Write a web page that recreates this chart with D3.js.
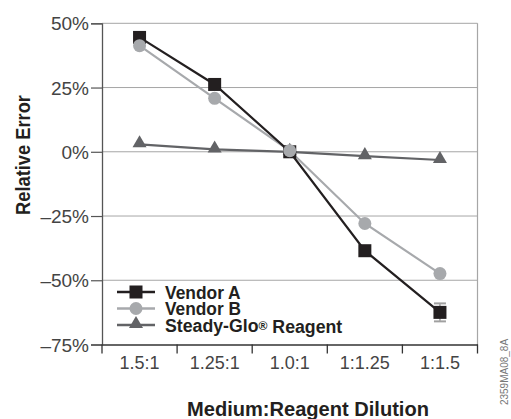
<!DOCTYPE html>
<html><head><meta charset="utf-8">
<script src="https://cdn.jsdelivr.net/npm/d3@7"></script>
<style>body{margin:0;background:#fff}svg{display:block}</style>
</head><body>
<script>
const categories = ["1.5:1","1.25:1","1.0:1","1:1.25","1:1.5"];
const vendorA = [44.5, 26.2, 0, -38.5, -62.5];
const vendorAErr = [0, 0, 0, 0, 3.5];
const vendorB = [41.3, 20.8, 0.4, -27.9, -47.4];
const steadyGlo = [2.9, 0.9, 0, -1.7, -3.2];
const yTicks = [50, 25, 0, -25, -50, -75];
const seriesNames = ["Vendor A", "Vendor B", "Steady-Glo® Reagent"];

const W = 511, H = 419;
const svg = d3.select("body").append("svg").attr("width", W).attr("height", H);
const m = {l:102, r:477.5, t:23.3, b:344.5};
const x = d3.scaleBand().domain(categories).range([m.l, m.r]);
const y = d3.scaleLinear().domain([-75, 50]).range([m.b, m.t]);
const cx = c => x(c) + x.bandwidth()/2;
const fmt = v => (v < 0 ? "\u2013" + Math.abs(v) : v) + "%";
const BOLD = "Liberation Sans, Arial, sans-serif";

// squeeze a text horizontally (in its own coordinate frame) to a target width
function condense(sel, target, ax, ay, rot) {
  const node = sel.node();
  const w = node.getBBox().width;
  const s = target / w;
  sel.attr("transform", `translate(${ax},${ay})` + (rot ? ` rotate(${rot})` : "") + ` scale(${s},1)`);
}

// gridlines
svg.append("g").selectAll("line").data(yTicks.filter(v => v > -75)).join("line")
  .attr("x1", m.l).attr("x2", m.r).attr("y1", d => y(d)).attr("y2", d => y(d))
  .attr("stroke", "#a6a6a6").attr("stroke-width", 1);
// right border
svg.append("line").attr("x1", m.r).attr("x2", m.r).attr("y1", m.t).attr("y2", m.b)
  .attr("stroke", "#a6a6a6").attr("stroke-width", 1.2);

// y axis
const yAxis = d3.axisLeft(y).tickValues(yTicks).tickSize(11).tickPadding(2).tickFormat(fmt);
const gy = svg.append("g").attr("transform", `translate(${m.l},0)`).call(yAxis);
gy.select(".domain").attr("stroke", "#555").attr("stroke-width", 1.3);
gy.selectAll(".tick line").attr("stroke", "#555").attr("stroke-width", 1.2);
gy.selectAll("text").attr("font-family", "Liberation Sans, Arial, sans-serif")
  .attr("font-size", 19).attr("fill", "#444").attr("dy", "0.35em");

// x axis
const xAxis = d3.axisBottom(x).tickSize(0).tickPadding(12);
const gx = svg.append("g").attr("transform", `translate(0,${m.b})`).call(xAxis);
gx.select(".domain").attr("stroke", "#333").attr("stroke-width", 1.6);
gx.selectAll("text").attr("font-family", "Liberation Sans, Arial, sans-serif")
  .attr("font-size", 18).attr("fill", "#444");
// boundary tick marks
const bounds = categories.map(c => x(c)).concat([m.r]);
svg.append("g").selectAll("line").data(bounds).join("line")
  .attr("x1", d => d).attr("x2", d => d).attr("y1", m.b).attr("y2", m.b + 9)
  .attr("stroke", "#333").attr("stroke-width", 1.3);

const line = d3.line().x((d,i) => cx(categories[i])).y(d => y(d));

// Steady-Glo
svg.append("path").datum(steadyGlo).attr("d", line).attr("fill","none")
  .attr("stroke", "#626366").attr("stroke-width", 2.2);
const tri = d3.symbol().type(d3.symbolTriangle).size(85);
svg.append("g").selectAll("path").data(steadyGlo).join("path")
  .attr("d", tri).attr("transform", (d,i) => `translate(${cx(categories[i])},${y(d)-1})`)
  .attr("fill", "#626366");

// Vendor B
svg.append("path").datum(vendorB).attr("d", line).attr("fill","none")
  .attr("stroke", "#a7a9ac").attr("stroke-width", 2.2);

// Vendor A
svg.append("path").datum(vendorA).attr("d", line).attr("fill","none")
  .attr("stroke", "#231f20").attr("stroke-width", 2.2);
// error bars
const eb = svg.append("g").selectAll("g").data(vendorA.map((v,i)=>({v, e:vendorAErr[i], c:categories[i]})).filter(d=>d.e>0)).join("g");
eb.append("line").attr("x1", d=>cx(d.c)).attr("x2", d=>cx(d.c)).attr("y1", d=>y(d.v+d.e)).attr("y2", d=>y(d.v-d.e)).attr("stroke","#a0a0a0").attr("stroke-width",1.5);
eb.append("line").attr("x1", d=>cx(d.c)-6).attr("x2", d=>cx(d.c)+6).attr("y1", d=>y(d.v+d.e)).attr("y2", d=>y(d.v+d.e)).attr("stroke","#a0a0a0").attr("stroke-width",2);
eb.append("line").attr("x1", d=>cx(d.c)-6).attr("x2", d=>cx(d.c)+6).attr("y1", d=>y(d.v-d.e)).attr("y2", d=>y(d.v-d.e)).attr("stroke","#a0a0a0").attr("stroke-width",2);
svg.append("g").selectAll("rect").data(vendorA).join("rect")
  .attr("x", (d,i) => cx(categories[i]) - 6.5).attr("y", d => y(d) - 6.5)
  .attr("width", 13).attr("height", 13).attr("fill", "#231f20");

// Vendor B circles on top
svg.append("g").selectAll("circle").data(vendorB).join("circle")
  .attr("cx", (d,i) => cx(categories[i])).attr("cy", d => y(d)).attr("r", 6.5)
  .attr("fill", "#a7a9ac");

// legend
const lg = svg.append("g");
const legendItems = [
  {name: seriesNames[0], color: "#231f20", mark: "sq", w: 76},
  {name: seriesNames[1], color: "#a7a9ac", mark: "ci", w: 76},
  {name: seriesNames[2], color: "#626366", mark: "tr", w: 178}
];
legendItems.forEach((d, i) => {
  const yy = 292 + i * 16.5;
  lg.append("line").attr("x1", 117).attr("x2", 155).attr("y1", yy).attr("y2", yy)
    .attr("stroke", d.color).attr("stroke-width", 2.5);
  if (d.mark === "sq") lg.append("rect").attr("x", 129.5).attr("y", yy-6.5).attr("width", 13).attr("height", 13).attr("fill", d.color);
  if (d.mark === "ci") lg.append("circle").attr("cx", 136).attr("cy", yy).attr("r", 6.5).attr("fill", d.color);
  if (d.mark === "tr") lg.append("path").attr("d", tri).attr("transform", `translate(136,${yy-1})`).attr("fill", d.color);
  const t = lg.append("text").attr("x", 0).attr("y", 0).attr("dy", "0.36em")
    .attr("font-family", BOLD).attr("font-weight", "bold")
    .attr("font-size", 19).attr("fill", "#231f20");
  if (d.name.includes("®")) {
    const parts = d.name.split("®");
    t.append("tspan").text(parts[0]);
    t.append("tspan").text("®").attr("font-size", 13).attr("dy", "-0.15em");
    t.append("tspan").text(parts[1]).attr("dy", "0.15em");
  } else t.text(d.name);
  condense(t, d.w, 165, yy);
});

// axis titles
const yt = svg.append("text").attr("text-anchor", "middle").attr("dy", "0.36em")
  .attr("font-family", BOLD).attr("font-weight", "bold")
  .attr("font-size", 21).attr("fill", "#231f20").text("Relative Error");
condense(yt, 120, 22, 155, -90);
const xt = svg.append("text").attr("text-anchor", "middle")
  .attr("font-family", BOLD).attr("font-weight", "bold")
  .attr("font-size", 21).attr("fill", "#231f20").text("Medium:Reagent Dilution");
condense(xt, 242, 308, 416);
svg.append("text").attr("transform", `translate(508,372) rotate(-90)`).attr("text-anchor", "middle")
  .attr("font-family", "Liberation Sans, Arial, sans-serif").attr("font-size", 10)
  .attr("fill", "#777").text("2359MA08_8A");
</script>
</body></html>
